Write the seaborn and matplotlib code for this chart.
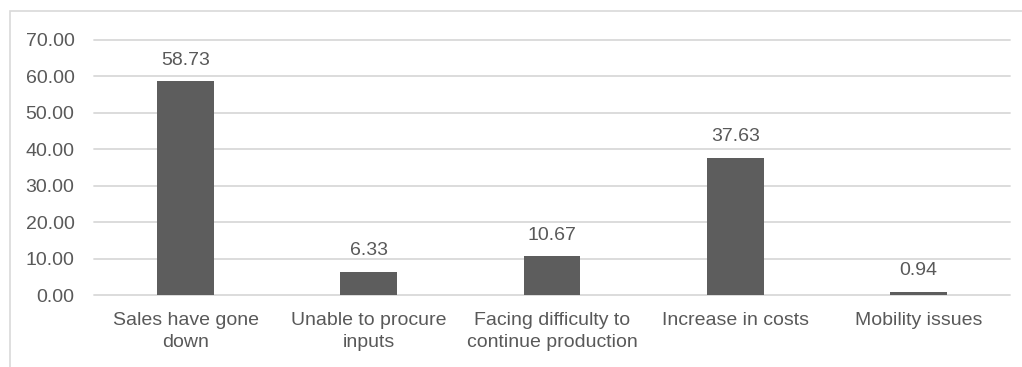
import matplotlib
matplotlib.use("Agg")
import matplotlib.pyplot as plt
from matplotlib.patches import Rectangle
import seaborn as sns
import pandas as pd

categories = [
    "Sales have gone\ndown",
    "Unable to procure\ninputs",
    "Facing difficulty to\ncontinue production",
    "Increase in costs",
    "Mobility issues",
]
values = [58.73, 6.33, 10.67, 37.63, 0.94]
yticks = [0, 10, 20, 30, 40, 50, 60, 70]

sns.set_theme(style="white")
plt.rcParams["font.family"] = ["Liberation Sans", "DejaVu Sans"]

text_color = "#595959"
bar_color = "#5d5d5d"
grid_color = "#d9d9d9"
fs = 14

fig = plt.figure(figsize=(10.22, 3.67), dpi=100)
fig.patch.set_facecolor("white")

# outer chart frame (open on the right and bottom edges)
fig.patches.append(Rectangle((9.5 / 1022, -0.1), 1.2, 1 - 11 / 367 + 0.1,
                             transform=fig.transFigure, fill=False,
                             edgecolor=grid_color, linewidth=1.2))

ax = fig.add_axes([94 / 1022, 1 - 295 / 367, (1010 - 94) / 1022, (295 - 40) / 367])

df = pd.DataFrame({"category": categories, "value": values})
sns.barplot(data=df, x="category", y="value", color=bar_color, saturation=1,
            width=0.31, ax=ax, zorder=3, linewidth=0)

for c in ax.containers:
    ax.bar_label(c, labels=[f"{v:.2f}" for v in values], padding=9,
                 fontsize=fs, color=text_color)

ax.set_ylim(0, 70)
ax.set_yticks(yticks)
ax.set_yticklabels([f"{t:.2f}" for t in yticks], fontsize=fs, color=text_color)
ax.tick_params(axis="x", labelsize=fs, colors=text_color, length=0, pad=12)
ax.tick_params(axis="y", length=0, pad=14)
for lab in ax.get_xticklabels():
    lab.set_linespacing(1.4)
ax.yaxis.grid(True, color=grid_color, linewidth=1.3, zorder=0)
for gl in ax.get_ygridlines():
    gl.set_clip_on(False)
ax.set_axisbelow(True)
for s in ax.spines.values():
    s.set_visible(False)
ax.set_xlabel("")
ax.set_ylabel("")

fig.savefig("out.png", dpi=100, facecolor="white")
